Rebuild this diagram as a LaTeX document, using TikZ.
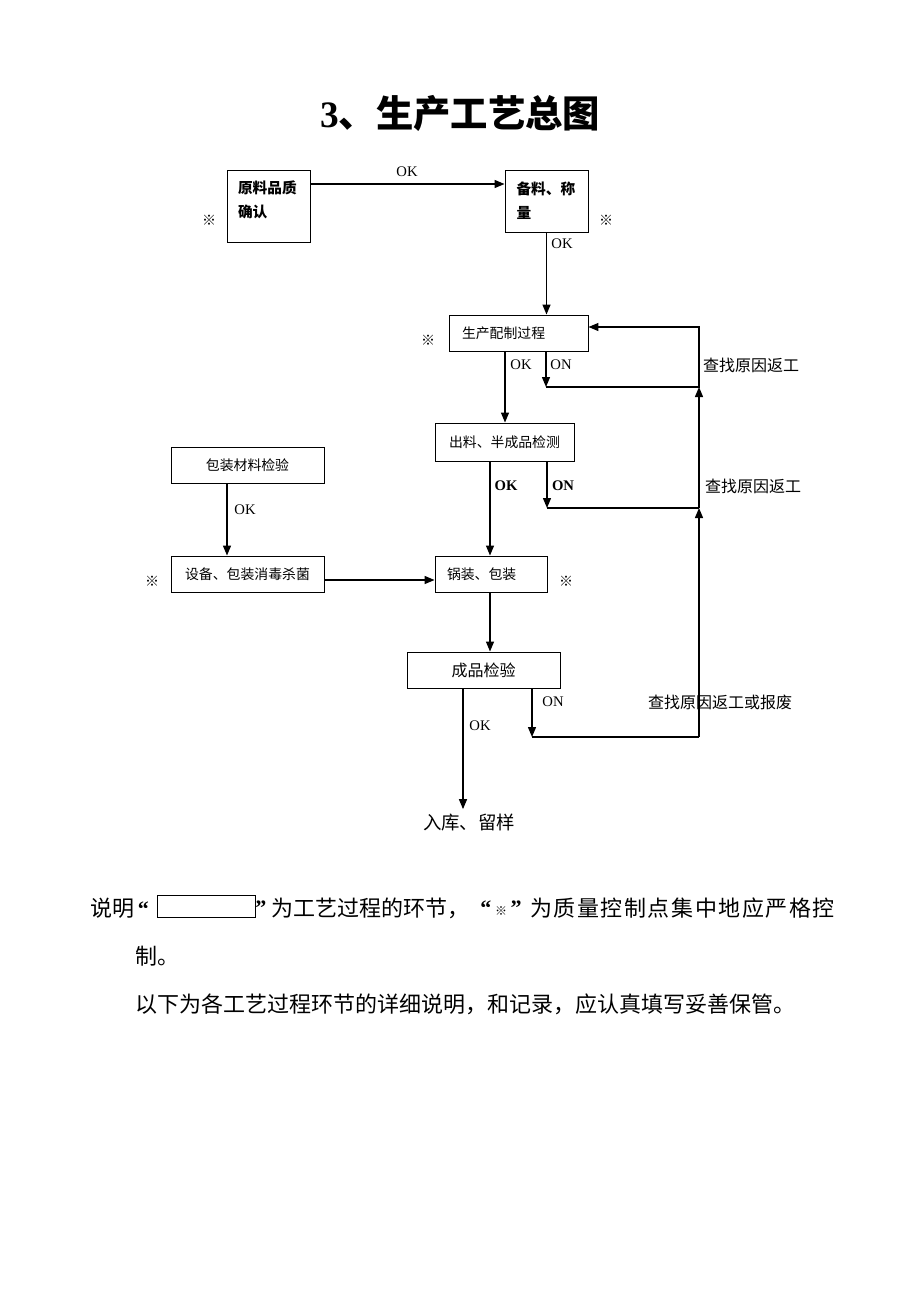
\documentclass[tikz,border=0pt]{standalone}
\usepackage{fontspec}
\setmainfont{Liberation Serif}
\newfontfamily\cjk{Noto Sans CJK SC}
\usetikzlibrary{positioning}
\usetikzlibrary{calc}
\usetikzlibrary{arrows.meta}

\tikzset{
        stage/.style={draw,line width=0.7pt,inner sep=0pt,font=\cjk\fontsize{10.4}{12}\selectfont},
        flow/.style={->,>={Triangle[length=7.5pt,width=6pt]},line width=1pt},
        link/.style={line width=1pt},
        tag/.style={inner sep=0pt,font=\fontsize{11}{13}\selectfont},
        note/.style={inner sep=0pt,font=\cjk\fontsize{12}{14}\selectfont},
        ctrl/.style={inner sep=0pt,font=\cjk\fontsize{10.5}{12}\selectfont},
        line/.style={inner sep=0pt,anchor=west,font=\cjk\fontsize{16.5}{20}\selectfont},
        }

\begin{document}
\begin{tikzpicture}[x=0.75pt,y=-0.75pt]
			\useasboundingbox (0,0) rectangle (920,1302);

			% title
			\node [inner sep=0pt,font=\fontsize{28}{32}\selectfont\bfseries] (title) at (460,113) {3\cjk 、生产工艺总图};

			% process steps
			\node [stage,minimum width=62.25pt,minimum height=54pt,text width=45.75pt,align=left,
			       text depth=28.3pt,font=\cjk\fontsize{11}{18}\selectfont\bfseries] (raw) at (268.5,206) {原料品质\\确认};
			\node [stage,minimum width=62.25pt,minimum height=46.5pt,text width=45pt,align=left,
			       font=\cjk\fontsize{11}{18}\selectfont\bfseries] (prep) at (546.5,201) {备料、称\\量};
			\node [stage,minimum width=104.25pt,minimum height=27pt,text width=84.75pt,align=left] (mix) at (518.5,333) {生产配制过程};
			\node [stage,minimum width=104.25pt,minimum height=28.5pt] (semi) at (504.5,442) {出料、半成品检测};
			\node [stage,minimum width=114.75pt,minimum height=27pt] (pack) at (247.5,465) {包装材料检验};
			\node [stage,minimum width=114.75pt,minimum height=27pt] (steril) at (247.5,574) {设备、包装消毒杀菌};
			\node [stage,minimum width=84pt,minimum height=27pt,text width=66pt,align=left] (fill) at (491,574) {锅装、包装};
			\node [stage,minimum width=114.75pt,minimum height=27pt,font=\cjk\fontsize{12}{14}\selectfont] (final) at (483.5,670) {成品检验};
			\node [inner sep=0pt,outer sep=4pt,font=\cjk\fontsize{13.8}{16}\selectfont] (store) at (469,823) {入库、留样};

			% control points
			\node [ctrl] (cp1) at (209,220) {※};
			\node [ctrl] (cp2) at (606,220) {※};
			\node [ctrl] (cp3) at (428,340) {※};
			\node [ctrl] (cp4) at (152,581) {※};
			\node [ctrl] (cp5) at (566,581) {※};

			% routing rows and columns
			\coordinate (rowA) at (0,184);
			\coordinate (rowD) at (0,387);
			\coordinate (rowE) at (0,327);
			\coordinate (rowH) at (0,508);
			\coordinate (rowJ) at (0,580);
			\coordinate (rowM) at (0,737);
			\coordinate (colB) at (505,0);
			\coordinate (colC) at (546,0);
			\coordinate (colF) at (490,0);
			\coordinate (colG) at (547,0);
			\coordinate (colI) at (227,0);
			\coordinate (colK) at (463,0);
			\coordinate (colN) at (532,0);
			\coordinate (back) at (699,0);

			% main flow
			\draw [flow] (raw.east |- rowA) -- (prep.west |- rowA);
			\draw [flow] (prep.south) -- (prep.south |- mix.north);
			\draw [flow] (mix.south -| colB) -- (semi.north -| colB);
			\draw [flow] (semi.south -| colF) -- (fill.north -| colF);
			\draw [flow] (pack.south -| colI) -- (steril.north -| colI);
			\draw [flow] (steril.east |- rowJ) -- (fill.west |- rowJ);
			\draw [flow] (fill.south -| colF) -- (final.north -| colF);
			\draw [flow] (final.south -| colK) -- (store.north -| colK);

			% rework loops
			\draw [flow] (mix.south -| colC) -- (colC |- rowD);
			\draw [flow] (colC |- rowD) -- (back |- rowD) -- (back |- rowE) -- (mix.east |- rowE);
			\draw [flow] (semi.south -| colG) -- (colG |- rowH);
			\draw [link] (colG |- rowH) -- (back |- rowH);
			\draw [flow] (back |- rowH) -- (back |- rowD);
			\draw [flow] (final.south -| colN) -- (colN |- rowM);
			\draw [link] (colN |- rowM) -- (back |- rowM);
			\draw [flow] (back |- rowM) -- (back |- rowH);

			% labels
			\node [tag] (ok1) at (407,172) {OK};
			\node [tag] (ok2) at (562,244) {OK};
			\node [tag] (ok3) at (521,365) {OK};
			\node [tag] (on3) at (561,365) {ON};
			\node [tag,font=\fontsize{11}{13}\selectfont\bfseries] (ok4) at (506,486) {OK};
			\node [tag,font=\fontsize{11}{13}\selectfont\bfseries] (on4) at (563,486) {ON};
			\node [tag] (ok5) at (245,510) {OK};
			\node [tag] (on6) at (553,702) {ON};
			\node [tag] (ok6) at (480,726) {OK};
			\node [note] (why1) at (751,365) {查找原因返工};
			\node [note] (why2) at (753,486) {查找原因返工};
			\node [note] (why3) at (720,702) {查找原因返工或报废};

			% legend text
			\node [line] (say1) at (90,908) {说明{\rmfamily\bfseries\,“}};
			\node [draw,line width=0.7pt,inner sep=0pt,minimum width=73.5pt,minimum height=16.5pt] (legend) at (206,906) {};
			\node [line] (say2) at (255,908) {\rmfamily\bfseries ”};
			\node [line] (say3) at (271,908) {为工艺过程的环节，};
			\node [inner sep=0pt,font=\fontsize{16.5}{20}\selectfont\bfseries] (say4) at (501,908) {“\,{\cjk\mdseries\fontsize{9}{10}\selectfont ※}\,”};
			\node [line] (say5) at (530,908) {\addfontfeature{LetterSpace=7}为质量控制点集中地应严格控};
			\node [line] (say6) at (135,956) {制。};
			\node [line] (say7) at (135,1004) {以下为各工艺过程环节的详细说明，和记录，应认真填写妥善保管。};
		\end{tikzpicture}
\end{document}
